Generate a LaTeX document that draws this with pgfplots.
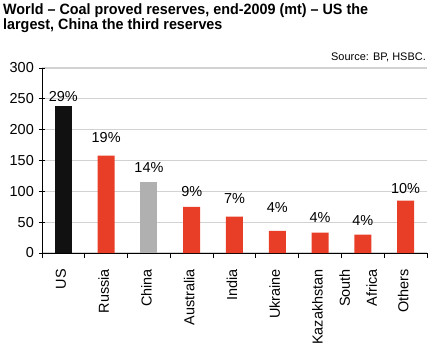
\documentclass[border=0pt]{standalone}
\usepackage{pgfplots}
\pgfplotsset{compat=1.18}
\usepackage{fontspec}
\setmainfont{Liberation Sans}
\newfontfamily\titlefont[FakeStretch=0.96, Ligatures=TeX]{Liberation Sans}
\definecolor{barred}{RGB}{232,62,40}
\definecolor{bargray}{RGB}{176,176,176}
\definecolor{barblack}{RGB}{17,17,17}
\definecolor{gridgray}{RGB}{210,210,210}
\begin{document}
\begin{tikzpicture}
\path[use as bounding box] (-42bp,-95bp) rectangle (387bp,253bp);
\begin{axis}[
  scale only axis,
  width=385bp, height=185bp,
  at={(0,0)}, anchor=south west,
  xmin=-0.5, xmax=8.5,
  ymin=0, ymax=300,
  ytick={0,50,...,300},
  xtick={0,...,8},
  xticklabels={US,Russia,China,Australia,India,Ukraine,Kazakhstan,{\begin{tabular}{@{}r@{}}South\\[12bp]Africa\end{tabular}},Others},
  minor xtick={-0.5,0.5,...,8.5},
  major x tick style={draw=none},
  minor x tick style={black, line width=0.8pt},
  y tick style={black, line width=0.8pt},
  major tick length=6bp, minor tick length=5bp,
  tick align=outside,
  axis lines=left,
  axis line style={-, black, line width=0.9pt},
  ymajorgrids, grid style={gridgray, line width=1.3pt},
  /pgf/number format/assume math mode=true,
  tick label style={font=\fontsize{14.5}{15}\selectfont},
  xticklabel style={rotate=90, anchor=east, inner sep=0pt, xshift=-10bp, yshift=2.5bp},
  yticklabel style={inner sep=0pt, xshift=-5bp},
  ybar, bar width=17bp, bar shift=0pt,
  clip=false,
]
\addplot[fill=barblack, draw=none] coordinates {(0,238)};
\addplot[fill=bargray, draw=none] coordinates {(2,115)};
\addplot[fill=barred, draw=none] coordinates {(1,158) (3,75) (4,59) (5,36) (6,33) (7,30) (8,85)};
\addplot[draw=none, mark=none, nodes near coords, point meta=explicit symbolic,
  nodes near coords style={anchor=center, font=\fontsize{14.5}{15}\selectfont, inner sep=0pt}]
  table[meta=lab, row sep=\\] {
  x y lab\\
  0 253 29\%\\
  1 188 19\%\\
  2 139 14\%\\
  3 99 9\%\\
  4 89 7\%\\
  5 73 4\%\\
  6 58 4\%\\
  7 53 4\%\\
  8 105 10\%\\
  };
\end{axis}
\node[anchor=north west, align=left, inner sep=0pt, font=\titlefont\bfseries\fontsize{15}{16}\selectfont] at (-39bp,250bp) {World – Coal proved reserves, end-2009 (mt) – US the\\largest, China the third reserves};
\node[anchor=base east, inner sep=0pt, font=\fontsize{11}{12}\selectfont] at (384bp,192bp) {Source: BP, HSBC.};
\end{tikzpicture}
\end{document}
